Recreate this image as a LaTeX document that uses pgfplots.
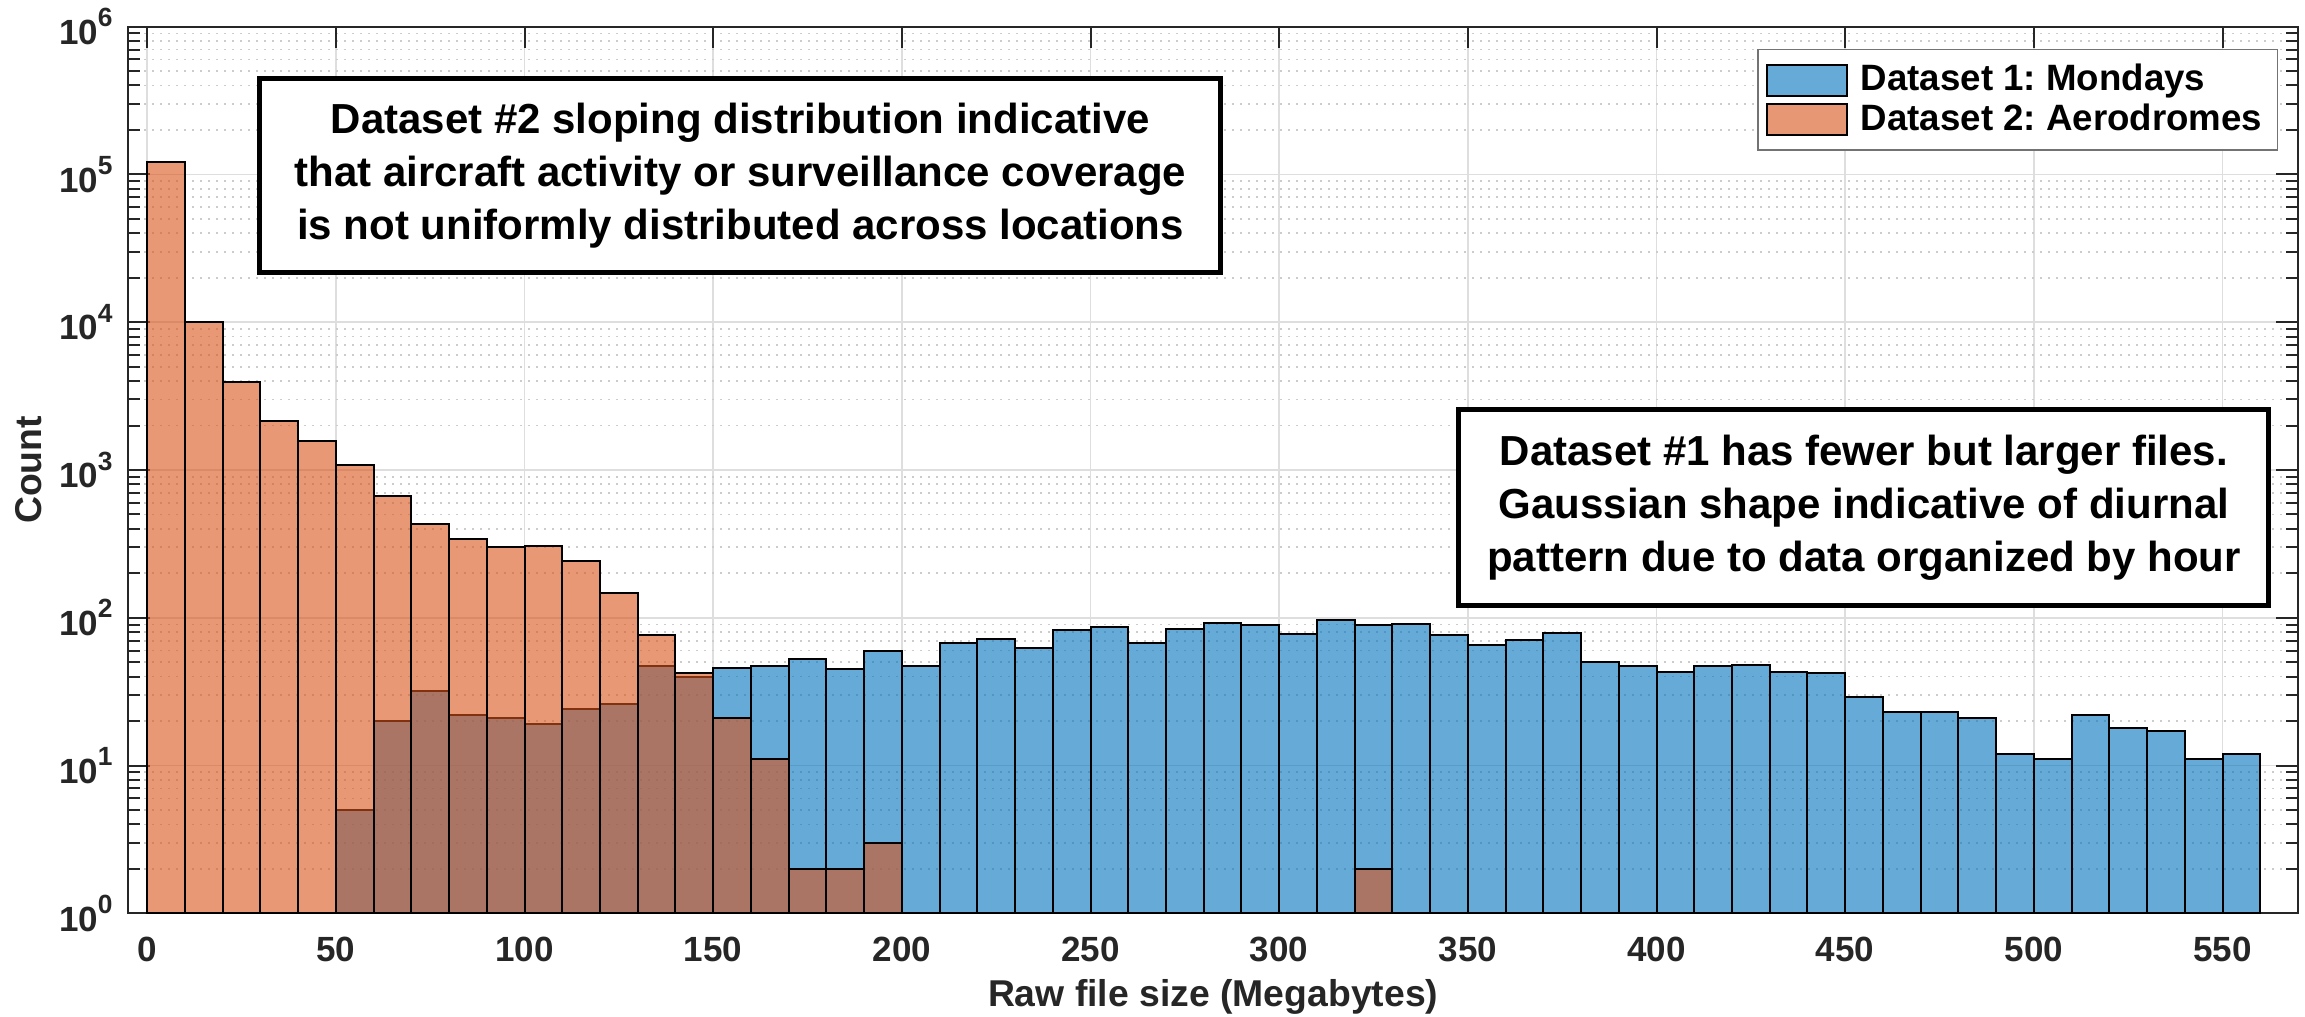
\documentclass[border=0pt]{standalone}
\usepackage{fontspec}
\setmainfont{Liberation Sans}
\usepackage{pgfplots}
\pgfplotsset{compat=1.18}
\frenchspacing
\definecolor{axgray}{rgb}{0.15,0.15,0.15}
\definecolor{mblue}{rgb}{0,0.447,0.741}
\definecolor{morange}{rgb}{0.85,0.325,0.098}
\newcommand{\sci}[1]{10\raisebox{5.3pt}{\fontsize{7.9}{8}\selectfont #1}}
\pgfplotsset{mylegend/.style={legend image code/.code={\draw[##1] (0pt,-4.65pt) rectangle (24pt,4.65pt);}}}
\begin{document}
\begin{tikzpicture}
\useasboundingbox (-38.49pt,-30.81pt) rectangle (653.01pt,274.0pt);
\begin{axis}[
  scale only axis, width=650.9pt, height=266pt,
  at={(0,0)}, anchor=south west,
  xmin=-5, xmax=570, ymin=1, ymax=1e6, ymode=log,
  enlargelimits=false,
  xtick={0,50,...,550},
  ytick={1,10,100,1000,10000,100000,1000000},
  yticklabels={\sci{0},\sci{1},\sci{2},\sci{3},\sci{4},\sci{5},\sci{6}},
  minor ytick={2,3,4,5,6,7,8,9,20,30,40,50,60,70,80,90,200,300,400,500,600,700,800,900,2000,3000,4000,5000,6000,7000,8000,9000,20000,30000,40000,50000,60000,70000,80000,90000,200000,300000,400000,500000,600000,700000,800000,900000},
  xtick pos=both, ytick pos=both, xticklabel pos=lower, yticklabel pos=left,
  tick align=inside,
  major tick length=6.5pt, minor tick length=3.5pt,
  tick style={axgray, line width=0.6pt},
  axis line style={axgray, line width=0.6pt},
  xmajorgrids=true, ymajorgrids=true, yminorgrids=true,
  major grid style={color=black!13, line width=0.5pt},
  minor grid style={color=black!20, dotted, line width=0.5pt},
  /pgf/number format/assume math mode=true,
  xticklabel style={font=\bfseries\fontsize{10.5}{12}\selectfont, text=axgray, anchor=base, yshift=-14.6pt, inner sep=0pt},
  yticklabel style={font=\bfseries\fontsize{10.5}{12}\selectfont, text=axgray, anchor=east, xshift=-4.5pt, inner sep=0pt},
  xlabel={Raw file size (Megabytes)},
  ylabel={Count},
  xlabel style={font=\bfseries\fontsize{11.2}{13}\selectfont, text=axgray, at={(axis description cs:0.5,0)}, anchor=base, yshift=-28.1pt, inner sep=0pt},
  every axis y label/.style={font=\bfseries\fontsize{11.2}{13}\selectfont, text=axgray, at={(axis description cs:-0.0461,0.5)}, rotate=90, anchor=center, inner sep=0pt},
  legend style={at={(1,1)}, anchor=north east, xshift=-6pt, yshift=-6.7pt,
    draw=black!55, line width=0.4pt, fill=white,
    font=\bfseries\fontsize{11}{12}\selectfont, text=black,
    inner xsep=2.5pt, inner ysep=2.4pt, row sep=-1.6pt, column sep=1.8pt},
  legend cell align=left,
]
\addplot[ybar interval, fill=mblue, fill opacity=0.6, draw=black, line width=0.6pt, mylegend]
coordinates {
(50,5) (60,20) (70,32) (80,22) (90,21) (100,19) (110,24) (120,26) (130,47) (140,40)
(150,46) (160,47) (170,53) (180,45) (190,60) (200,47) (210,67) (220,72) (230,62) (240,83)
(250,87) (260,68) (270,84) (280,92) (290,89) (300,78) (310,96) (320,90) (330,91) (340,77)
(350,65) (360,71) (370,79) (380,50) (390,47) (400,43) (410,47) (420,48) (430,43) (440,42)
(450,29) (460,23) (470,23) (480,21) (490,12) (500,11) (510,22) (520,18) (530,17) (540,11)
(550,12) (560,12)
};
\addlegendentry{Dataset 1: Mondays}
\addplot[ybar interval, fill=morange, fill opacity=0.6, draw=black, line width=0.6pt, mylegend]
coordinates {
(0,122000) (10,10000) (20,3950) (30,2150) (40,1560) (50,1080) (60,670) (70,430) (80,340) (90,300)
(100,308) (110,243) (120,148) (130,76) (140,42) (150,21) (160,11) (170,2) (180,2) (190,3) (200,3)
};
\addlegendentry{Dataset 2: Aerodromes}
\addplot[ybar interval, fill=morange, fill opacity=0.6, draw=black, line width=0.6pt, forget plot]
coordinates {(320,2) (330,2)};
\draw[line width=1.5pt, fill=white] (rel axis cs:0.0607,0.941) rectangle (rel axis cs:0.5036,0.7233);
\node[align=center, font=\bfseries\fontsize{12.6}{15.9}\selectfont, text=black] at (rel axis cs:0.28215,0.83215)
  {Dataset \#2 sloping distribution indicative\\that aircraft activity or surveillance coverage\\is not uniformly distributed across locations};
\draw[line width=1.5pt, fill=white] (rel axis cs:0.6133,0.5677) rectangle (rel axis cs:0.9866,0.3477);
\node[align=center, font=\bfseries\fontsize{12.6}{15.9}\selectfont, text=black] at (rel axis cs:0.79995,0.4577)
  {Dataset \#1 has fewer but larger files.\\Gaussian shape indicative of diurnal\\pattern due to data organized by hour};
\end{axis}
\end{tikzpicture}
\end{document}
